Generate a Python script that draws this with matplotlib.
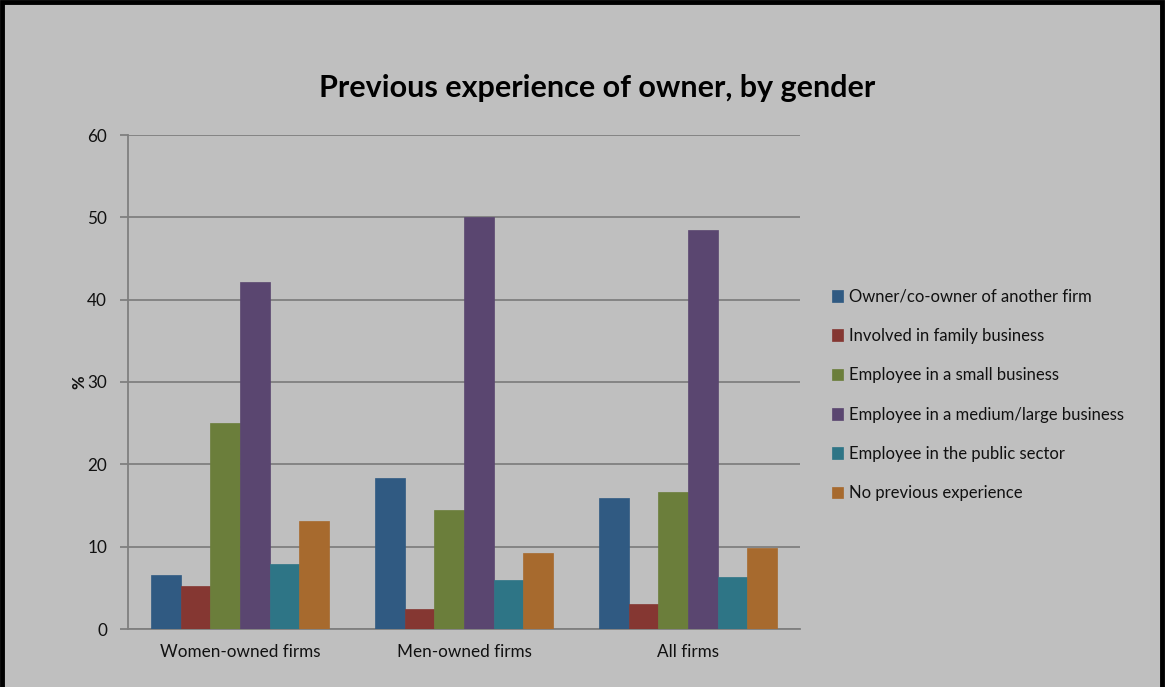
import matplotlib

matplotlib.use("Agg")
import matplotlib.pyplot as plt
import numpy as np
from matplotlib.patches import Rectangle

categories = ["Women-owned firms", "Men-owned firms", "All firms"]
series = [
    "Owner/co-owner of another firm",
    "Involved in family business",
    "Employee in a small business",
    "Employee in a medium/large business",
    "Employee in the public sector",
    "No previous experience",
]
owner = [6.6, 18.3, 15.9]
family = [5.2, 2.4, 3.0]
small = [25.0, 14.4, 16.6]
medium_large = [42.2, 50.0, 48.5]
public = [7.9, 6.0, 6.3]
no_exp = [13.1, 9.2, 9.8]
values = [owner, family, small, medium_large, public, no_exp]
colors = ["#305a82", "#853732", "#6b7e3b", "#5a4670", "#2e7586", "#a76a2e"]

bg = "#bfbfbf"
W, H = 1165, 687
fig = plt.figure(figsize=(W / 100, H / 100), dpi=100, facecolor=bg)
plt.rcParams["font.family"] = ["Lato", "DejaVu Sans"]

# plot area in pixels: x 128..800, y 135..629
ax = fig.add_axes([128 / W, 1 - 629 / H, (800 - 128) / W, (629 - 135) / H])
ax.set_facecolor(bg)

x = np.arange(len(categories))
bw = 0.795 / len(series)
for i, (name, vals, c) in enumerate(zip(series, values, colors)):
    ax.bar(x - 0.3975 + bw * (i + 0.5), vals, bw, color=c, label=name,
           edgecolor=c, linewidth=0.5, zorder=3)

ax.set_xlim(-0.5, 2.5)
ax.set_ylim(0, 60)
ax.set_yticks(range(0, 61, 10))
ax.yaxis.grid(True, color="#7f7f7f", linewidth=1.3, zorder=0)
ax.set_xticks(x)
ax.set_xticklabels(categories, fontsize=12.3, color="#111111")
ax.tick_params(axis="x", length=0, pad=11)
ax.tick_params(axis="y", length=6, width=1.3, color="#7f7f7f", labelsize=12.3,
               labelcolor="#111111", pad=9)
for s in ["top", "right"]:
    ax.spines[s].set_visible(False)
for s in ["left", "bottom"]:
    ax.spines[s].set_color("#7f7f7f")
    ax.spines[s].set_linewidth(1.3)
ax.set_ylabel("%", fontsize=12, fontweight="bold", color="#111111", labelpad=0)

fig.text(597 / W, 1 - 88 / H, "Previous experience of owner, by gender",
         ha="center", va="center", fontsize=22, fontweight="bold", color="#000000")

leg = ax.legend(loc="center left", bbox_to_anchor=(825 / W, 1 - 395 / H),
                bbox_transform=fig.transFigure, frameon=False, fontsize=12,
                handlelength=0.7, handleheight=0.7, handletextpad=0.35,
                labelspacing=1.4, borderaxespad=0)
for t in leg.get_texts():
    t.set_color("#111111")

# black frame round the chart
fig.patches.append(Rectangle((2 / W, -0.01), (W - 5) / W, 1 - 2 / H + 0.01,
                             transform=fig.transFigure, fill=False,
                             edgecolor="black", linewidth=3.5))

fig.savefig("out.png", dpi=100, facecolor=bg)
